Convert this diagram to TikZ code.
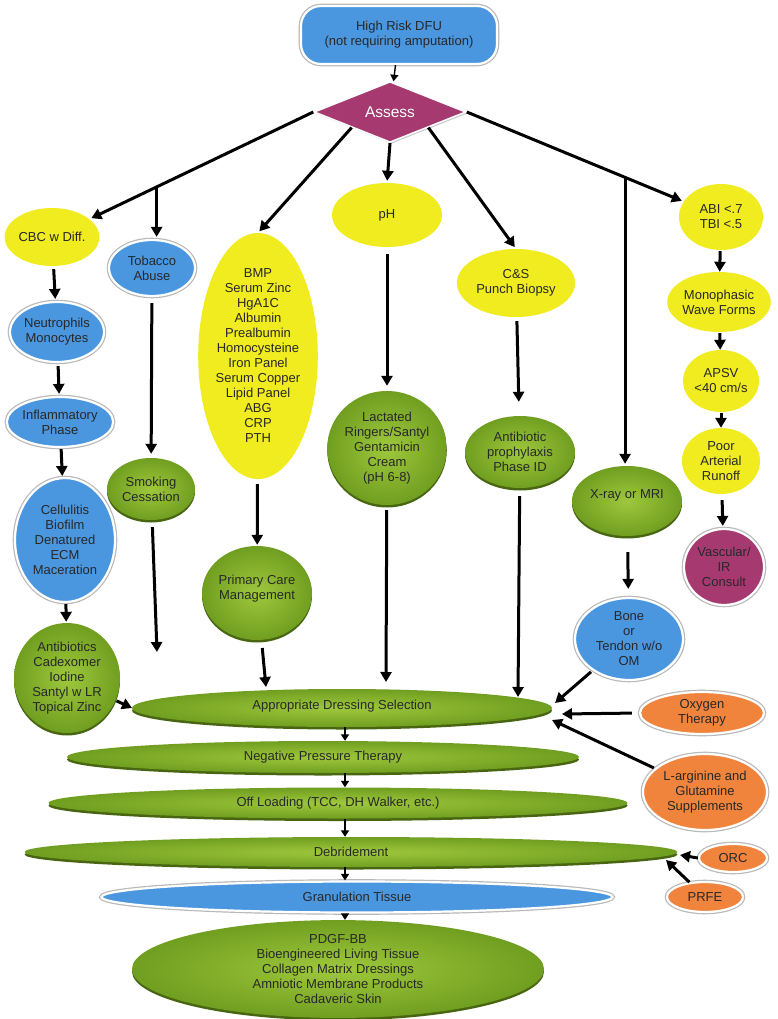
\documentclass[tikz,border=0pt]{standalone}
\usepackage{fontspec}
\setmainfont{Liberation Sans}
\usetikzlibrary{shapes.geometric,arrows.meta,shadows,calc}
\definecolor{yel}{RGB}{240,236,32}
\definecolor{blu}{RGB}{74,151,224}
\definecolor{gMain}{RGB}{112,158,32}
\definecolor{gLight}{RGB}{158,200,60}
\definecolor{gDark}{RGB}{72,102,18}
\definecolor{maroon}{RGB}{166,58,112}
\definecolor{orng}{RGB}{240,132,60}
\definecolor{txt}{RGB}{40,40,40}
\tikzset{
  ell/.style={ellipse, inner sep=0pt, align=center, text=txt},
  yelnode/.style={ell, fill=yel},
  ring/.style={draw=white, line width=2.2pt, preaction={draw=black!28, line width=4.6pt}},
  bluenode/.style={ell, fill=blu, ring},
  orgnode/.style={ell, fill=orng, ring},
  grnnode/.style={ell, inner color=gLight, outer color=gMain,
    drop shadow={fill=gDark, opacity=1, shadow xshift=0pt, shadow yshift=-2.5pt}},
  marnode/.style={ell, fill=maroon, ring},
  sz/.style 2 args={minimum width=#1pt, minimum height=#2pt},
  arr/.style={line width=3pt, -{Triangle[length=10pt,width=11pt]}, shorten <=3pt, shorten >=2pt},
  sarr/.style={line width=1.4pt, -{Triangle[length=6.5pt,width=8pt]}},
}
\begin{document}
\begin{tikzpicture}[x=1pt,y=-1pt, font=\fontsize{13}{15}\selectfont]
\useasboundingbox[fill=white] (0,0) rectangle (777,1019);

% top
\node[rectangle, rounded corners=20pt, fill=blu, ring, text=txt, align=center, sz={196}{58}, inner sep=0pt] (dfu) at (399,35) {High Risk DFU\\(not requiring amputation)};
\node[diamond, fill=maroon, draw=white, line width=1.5pt, drop shadow={fill=black!40, opacity=0.5, shadow xshift=1.5pt, shadow yshift=-1.5pt}, sz={152}{58}, inner sep=0pt, text=white, font=\fontsize{15.5}{17}\selectfont] (assess) at (390,112) {Assess};

% left column
\node[yelnode, sz={90}{58}] (cbc) at (52,237) {CBC w Diff.};
\node[bluenode, sz={94}{60}] (neut) at (57,332) {Neutrophils\\Monocytes};
\node[bluenode, sz={100}{50}] (infl) at (60,422) {Inflammatory\\Phase};
\node[bluenode, sz={100}{124}] (cell) at (65,540) {Cellulitis\\Biofilm\\Denatured\\ECM\\Maceration};
\node[grnnode, sz={106}{110}] (antis) at (67,678) {Antibiotics\\Cadexomer\\Iodine\\Santyl w LR\\Topical Zinc};

\node[bluenode, sz={86}{56}] (tob) at (152,268) {Tobacco\\Abuse};
\node[grnnode, sz={88}{62}] (smoke) at (151,489) {Smoking\\Cessation};

% middle
\node[yelnode, sz={112}{206}] (bmp) at (258,356) {BMP\\Serum Zinc\\HgA1C\\Albumin\\Prealbumin\\Homocysteine\\Iron Panel\\Serum Copper\\Lipid Panel\\ABG\\CRP\\PTH};
\node[grnnode, sz={110}{94}, text depth=12pt] (prim) at (257,593) {Primary Care\\Management};

\node[yelnode, sz={110}{64}] (ph) at (387,215) {pH};
\node[grnnode, sz={110}{114}] (lact) at (387,448) {Lactated\\Ringers/Santyl\\Gentamicin\\Cream\\(pH 6-8)};

\node[yelnode, sz={118}{68}] (cs) at (516,283) {C\&S\\Punch Biopsy};
\node[grnnode, sz={110}{72}] (abx) at (520,452) {Antibiotic\\prophylaxis\\Phase ID};

\node[grnnode, sz={110}{70}, text depth=14pt] (xray) at (627,501) {X-ray or MRI};
\node[bluenode, sz={108}{82}] (bone) at (629,639) {Bone\\or\\Tendon w/o\\OM};

% right column
\node[yelnode, sz={84}{66}] (abi) at (721,217) {ABI <.7\\TBI <.5};
\node[yelnode, sz={98}{60}] (mono) at (719,302) {Monophasic\\Wave Forms};
\node[yelnode, sz={76}{62}] (apsv) at (721,381) {APSV\\<40 cm/s};
\node[yelnode, sz={78}{66}] (poor) at (721,461) {Poor\\Arterial\\Runoff};
\node[marnode, sz={80}{76}] (vasc) at (724,567) {Vascular/\\IR\\Consult};

\node[orgnode, sz={124}{42}] (oxy) at (702,713) {Oxygen\\Therapy};
\node[orgnode, sz={124}{76}] (larg) at (705,792) {L-arginine and\\Glutamine\\Supplements};
\node[orgnode, sz={68}{28}] (orc) at (733,858) {ORC};
\node[orgnode, sz={76}{30}] (prfe) at (705,897) {PRFE};

% bottom stack
\node[grnnode, sz={420}{38}, text depth=6pt] (dress) at (342,708) {Appropriate Dressing Selection};
\node[grnnode, sz={512}{32}] (npt) at (323,757) {Negative Pressure Therapy};
\node[grnnode, sz={579}{31}] (off) at (338,803) {Off Loading (TCC, DH Walker, etc.)};
\node[grnnode, sz={653}{30}] (debr) at (351,852) {Debridement};
\node[bluenode, sz={511}{31}] (gran) at (357,897) {Granulation Tissue};
\node[grnnode, sz={412}{88}] (pdgf) at (338,969) {PDGF-BB\\Bioengineered Living Tissue\\Collagen Matrix Dressings\\Amniotic Membrane Products\\Cadaveric Skin};

% free ends of connectors
\coordinate (e0) at (132,708);
\coordinate (e1) at (157,652);
\coordinate (e2) at (266,687);
\coordinate (e3) at (386,682);
\coordinate (e4) at (518,697);
\coordinate (e5) at (555,703);
\coordinate (e6) at (562,714);
\coordinate (e7) at (552,720);
\coordinate (e8) at (680,855);
\coordinate (e9) at (666,860);
\coordinate (m) at (345,0);

% connectors from top
\draw[sarr, shorten >=1pt] (dfu) -- (assess);
\draw[arr, shorten <=0pt] (assess.west) -- node[coordinate, pos=0.70] (jt) {} (cbc);
\draw[arr, shorten <=0pt] (jt) -- (jt |- tob.north);
\draw[arr, shorten <=0pt] (assess.south west) -- (bmp.north);
\draw[arr, shorten <=0pt] (assess.south) -- (ph.north);
\draw[arr, shorten <=0pt] (assess.south east) -- (cs.north);
\draw[arr, shorten <=0pt] (assess.east) -- node[coordinate, pos=0.73] (jx) {} (abi);
\draw[arr, shorten <=0pt] (jx) -- (jx |- xray.north);

% columns
\draw[arr] (cbc) -- (neut);
\draw[arr] (neut) -- (infl);
\draw[arr, shorten <=1pt, shorten >=1pt] (infl) -- (cell);
\draw[arr, shorten <=1pt, shorten >=1pt] (cell) -- (antis);
\draw[arr, shorten <=6pt, shorten >=4pt] (tob) -- (smoke);
\draw[arr, shorten <=5pt, shorten >=1pt] (bmp) -- (prim);
\draw[arr, shorten <=7pt, shorten >=5pt] (ph) -- (lact);
\draw[arr, shorten <=4pt, shorten >=14pt] (cs) -- (abx);
\draw[arr, shorten <=1pt, shorten >=0pt] (abi) -- (mono);
\draw[arr, shorten <=1pt, shorten >=0pt] (mono) -- (apsv);
\draw[arr, shorten <=1pt, shorten >=0pt] (apsv) -- (poor);
\draw[arr, shorten <=6pt] (poor) -- (vasc);
\draw[arr, shorten <=16pt, shorten >=8pt] (xray) -- (bone);

% into dressing
\draw[arr, shorten <=1pt, shorten >=0pt] (antis) -- (e0);
\draw[arr, shorten <=7pt, shorten >=0pt] (smoke) -- (e1);
\draw[arr, shorten <=8pt, shorten >=0pt] (prim) -- (e2);
\draw[arr, shorten <=5pt, shorten >=0pt] (lact) -- (e3);
\draw[arr, shorten <=8pt, shorten >=0pt] (abx) -- (e4);
\draw[arr, shorten <=2pt, shorten >=0pt] (bone) -- (e5);
\draw[arr, shorten <=7pt, shorten >=0pt] (oxy.west) -- (e6);
\draw[arr, shorten <=1pt, shorten >=0pt] (larg) -- (e7);
\draw[arr, shorten <=0pt, shorten >=0pt] (orc.west) -- (e8);
\draw[arr, shorten <=0pt, shorten >=0pt] (prfe) -- (e9);

% down the stack
\draw[sarr] (dress.south -| m) -- (npt.north -| m);
\draw[sarr] (npt.south -| m) -- (off.north -| m);
\draw[sarr] (off.south -| m) -- (debr.north -| m);
\draw[sarr] (debr.south -| m) -- (gran.north -| m);
\draw[sarr] (gran.south -| m) -- (pdgf.north -| m);
\end{tikzpicture}
\end{document}
